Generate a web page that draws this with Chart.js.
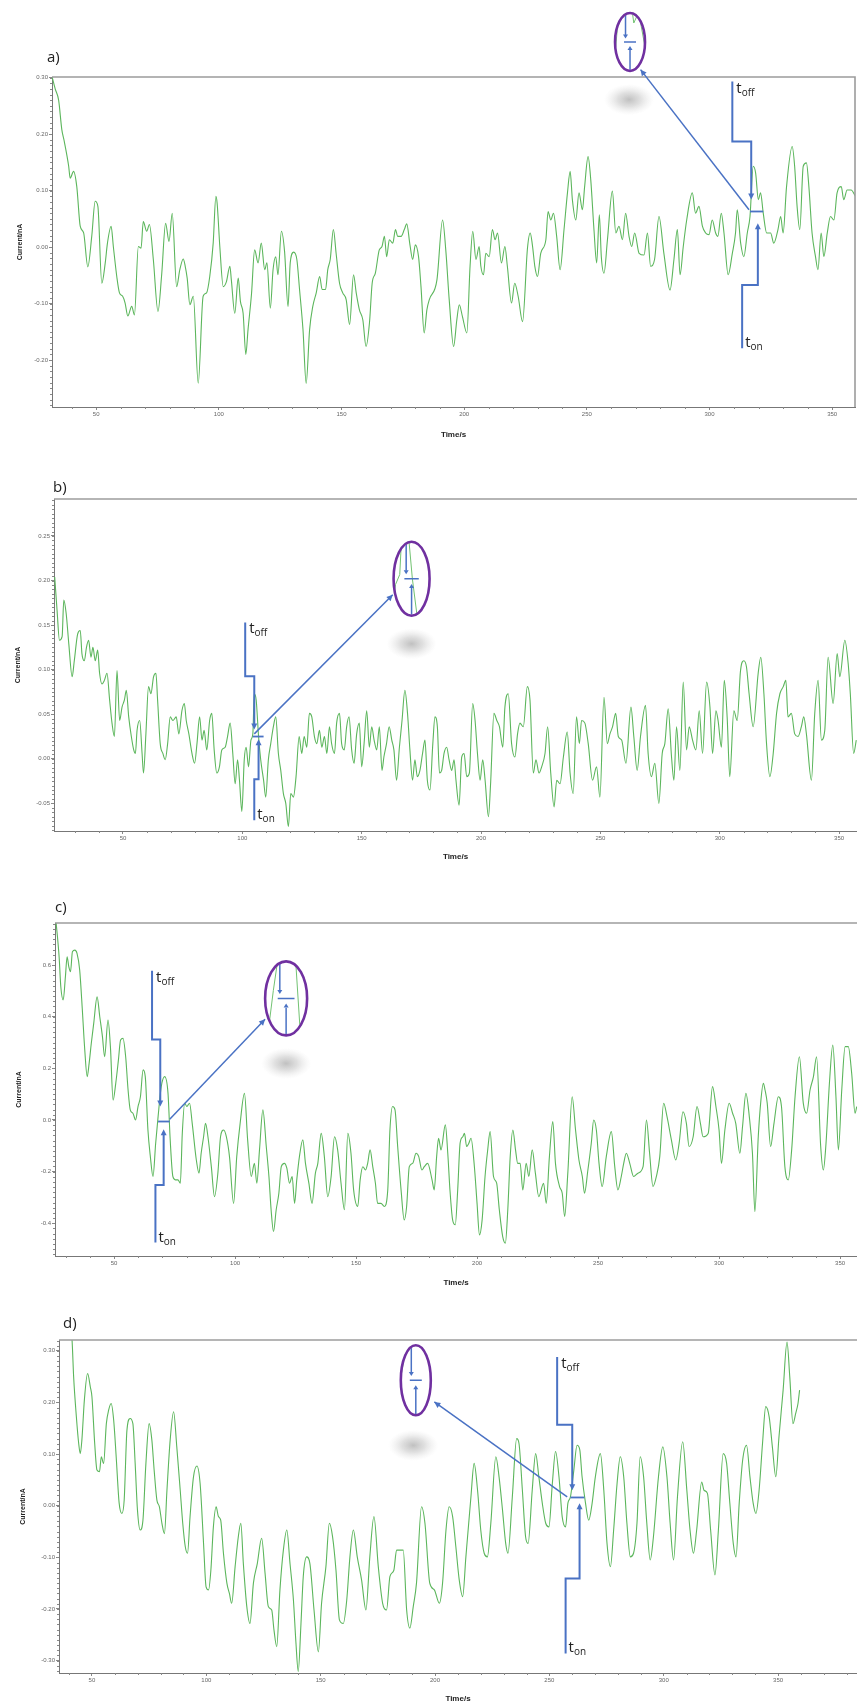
<!DOCTYPE html>
<html><head><meta charset="utf-8">
<script src="https://cdn.jsdelivr.net/npm/chart.js@4.4.1/dist/chart.umd.min.js"></script>
<style>
html,body{margin:0;padding:0;background:#fff;}
#page{position:relative;width:857px;height:1706px;overflow:hidden;background:#fff;}
canvas{position:absolute;left:0;}
</style></head><body><div id="page">
<canvas id="ca" width="857" height="450" style="top:0px"></canvas>
<canvas id="cb" width="857" height="420" style="top:450px"></canvas>
<canvas id="cc" width="857" height="420" style="top:870px"></canvas>
<canvas id="cd" width="857" height="416" style="top:1290px"></canvas>
</div>
<script>
// ---------- data ----------
const X_TICKS = [50,100,150,200,250,300,350];
const Y_TICKS_A = [-0.2,-0.1,0,0.1,0.2,0.3];
const Y_TICKS_B = [-0.05,0,0.05,0.1,0.15,0.2,0.25];
const Y_TICKS_C = [-0.4,-0.2,0,0.2,0.4,0.6];
const Y_TICKS_D = [-0.3,-0.2,-0.1,0,0.1,0.2,0.3];

// [time (s), current (nA)]
const TRACE_A = [[32.0,0.302],[33.3,0.280],[34.7,0.260],[36.0,0.208],[37.0,0.187],[38.8,0.143],[39.4,0.122],[40.8,0.134],[42.1,0.107],[43.5,0.037],[44.9,0.025],[46.6,-0.035],[48.2,0.019],[49.6,0.081],[50.7,0.072],[52.3,-0.064],[53.7,-0.028],[54.6,0.007],[56.1,0.037],[57.0,0.001],[58.4,-0.052],[59.5,-0.081],[60.8,-0.087],[61.8,-0.099],[62.9,-0.122],[64.5,-0.105],[65.6,-0.120],[67.2,0.001],[68.3,-0.002],[69.2,0.045],[70.6,0.028],[71.7,0.040],[73.3,-0.022],[75.2,-0.114],[76.7,-0.049],[78.3,0.042],[79.7,0.010],[81.0,0.060],[82.8,-0.070],[84.1,-0.040],[85.5,-0.021],[86.3,-0.034],[87.1,-0.055],[88.2,-0.102],[89.6,-0.087],[91.6,-0.241],[93.6,-0.087],[95.0,-0.081],[96.3,-0.052],[97.7,0.007],[98.8,0.090],[99.3,0.078],[100.4,0.001],[101.8,-0.070],[103.1,-0.061],[104.5,-0.034],[105.1,-0.058],[106.5,-0.117],[107.9,-0.055],[108.8,-0.096],[109.9,-0.117],[111.0,-0.190],[111.9,-0.146],[113.3,-0.084],[114.6,-0.005],[116.0,-0.028],[117.3,0.007],[118.7,-0.040],[119.6,-0.028],[121.0,-0.108],[122.1,-0.040],[123.2,-0.017],[124.1,-0.049],[125.5,0.028],[126.8,-0.008],[128.2,-0.105],[129.1,-0.028],[130.5,-0.009],[131.8,-0.022],[132.9,-0.075],[134.3,-0.146],[135.6,-0.241],[137.0,-0.146],[138.3,-0.105],[139.7,-0.081],[141.1,-0.052],[142.1,-0.075],[143.5,-0.075],[144.4,-0.040],[145.4,-0.022],[146.7,0.031],[147.8,-0.011],[149.2,-0.064],[150.5,-0.081],[151.9,-0.093],[153.3,-0.137],[154.9,-0.049],[156.0,-0.081],[157.3,-0.111],[158.7,-0.129],[160.0,-0.176],[161.4,-0.134],[162.5,-0.064],[163.8,-0.046],[165.4,-0.005],[166.5,0.001],[167.5,0.019],[168.4,-0.017],[169.5,0.013],[170.9,0.007],[172.0,0.031],[172.9,0.019],[174.3,0.019],[175.6,0.031],[176.6,0.041],[177.9,0.004],[179.0,-0.022],[180.1,0.004],[181.4,-0.017],[182.4,-0.070],[183.7,-0.152],[184.8,-0.111],[185.8,-0.093],[188.9,-0.058],[191.2,0.048],[192.5,-0.005],[193.9,-0.093],[195.7,-0.176],[197.0,-0.129],[198.0,-0.102],[199.3,-0.123],[201.1,-0.152],[202.4,-0.034],[203.5,0.028],[204.8,-0.022],[206.1,0.001],[206.8,-0.034],[207.9,-0.049],[208.8,-0.011],[210.2,-0.017],[211.5,0.031],[212.6,0.013],[213.6,0.025],[215.2,-0.028],[216.6,0.001],[217.6,-0.034],[219.3,-0.099],[220.6,-0.064],[222.0,-0.087],[223.8,-0.132],[225.8,-0.002],[226.9,0.025],[227.8,0.004],[228.8,-0.034],[229.9,-0.052],[231.2,-0.011],[233.3,0.013],[234.2,0.063],[235.3,0.048],[236.4,0.060],[237.7,0.019],[239.1,-0.040],[240.7,0.031],[242.1,0.096],[243.2,0.134],[244.1,0.084],[245.5,0.048],[246.8,0.096],[248.2,0.066],[249.1,0.107],[250.5,0.160],[251.6,0.119],[252.9,0.031],[254.0,-0.028],[255.1,0.057],[255.9,-0.017],[257.0,-0.046],[258.4,0.013],[260.4,0.099],[261.8,0.025],[263.1,0.037],[264.5,0.013],[265.8,0.060],[267.2,0.019],[268.3,0.001],[269.5,0.025],[271.3,-0.011],[273.3,-0.014],[274.7,0.025],[276.0,-0.034],[277.6,-0.022],[279.4,0.054],[281.4,-0.011],[283.9,-0.076],[285.5,-0.022],[286.9,0.031],[288.0,-0.049],[289.3,0.001],[290.7,0.048],[293.0,0.096],[294.3,0.060],[295.7,0.072],[297.1,0.037],[298.4,0.025],[299.8,0.022],[301.1,0.048],[302.5,0.025],[303.4,0.019],[304.8,0.060],[305.9,0.025],[307.6,-0.049],[309.3,-0.011],[310.6,0.025],[311.3,0.066],[312.7,0.007],[314.0,-0.017],[315.4,0.025],[316.5,0.054],[317.8,0.143],[318.8,0.131],[319.9,0.084],[320.8,0.096],[321.9,0.060],[323.3,0.025],[324.9,0.025],[326.2,0.007],[327.9,0.031],[329.0,0.054],[330.0,0.025],[331.4,0.107],[333.7,0.178],[334.7,0.143],[335.7,0.072],[336.8,0.031],[338.2,0.143],[339.5,0.149],[340.5,0.107],[341.8,0.025],[343.2,-0.017],[344.2,-0.040],[345.5,0.025],[346.6,-0.017],[348.0,0.025],[349.3,0.054],[350.7,0.048],[352.0,0.096],[353.7,0.107],[354.7,0.084],[356.1,0.101],[357.7,0.101],[359.5,0.090]];

const TRACE_B = [[21.4,0.204],[22.4,0.166],[23.4,0.133],[24.5,0.137],[25.2,0.178],[26.2,0.163],[27.3,0.129],[28.7,0.092],[29.6,0.110],[31.0,0.140],[32.1,0.144],[32.8,0.118],[33.8,0.110],[34.7,0.125],[35.6,0.133],[36.6,0.114],[37.4,0.125],[38.4,0.110],[39.4,0.122],[40.2,0.096],[41.2,0.084],[42.2,0.088],[43.3,0.096],[44.4,0.066],[45.4,0.040],[46.4,0.025],[47.5,0.099],[48.6,0.043],[49.6,0.058],[50.6,0.066],[51.4,0.077],[52.4,0.047],[53.5,0.025],[54.5,0.010],[55.2,0.006],[55.9,0.032],[57.0,0.043],[58.0,0.006],[58.6,-0.016],[59.6,0.028],[60.7,0.081],[61.7,0.073],[62.8,0.092],[63.8,0.096],[64.5,0.066],[65.6,0.017],[66.7,0.006],[67.7,-0.001],[68.7,0.017],[69.8,0.047],[70.9,0.043],[72.3,0.047],[73.4,0.028],[74.7,0.054],[75.7,0.062],[76.5,0.043],[77.6,0.028],[78.9,0.006],[80.0,-0.005],[81.0,0.017],[82.1,0.047],[83.1,0.021],[84.0,0.032],[85.1,0.010],[86.3,0.043],[87.2,0.051],[88.2,0.010],[89.3,-0.016],[90.4,-0.009],[91.4,0.010],[92.8,0.013],[93.8,0.025],[94.9,0.040],[96.0,0.006],[97.0,-0.028],[98.0,-0.001],[98.8,-0.024],[99.8,-0.059],[100.8,-0.001],[101.6,0.013],[102.6,-0.009],[103.6,0.021],[104.4,0.028],[105.0,0.073],[105.8,0.066],[106.8,0.025],[107.7,-0.001],[108.9,-0.024],[109.8,-0.043],[110.9,-0.001],[111.9,0.017],[113.0,0.036],[114.0,0.047],[115.1,0.006],[116.1,-0.013],[117.2,-0.039],[118.2,-0.050],[119.3,-0.076],[120.3,-0.039],[121.4,-0.043],[122.5,-0.020],[123.8,0.025],[124.9,0.006],[125.9,0.025],[127.0,0.013],[128.1,0.051],[129.1,0.047],[130.2,0.025],[131.2,0.017],[132.3,0.032],[133.3,0.013],[134.4,0.025],[135.4,0.006],[136.5,0.036],[137.4,0.017],[138.6,0.006],[139.5,0.040],[140.7,0.051],[141.6,0.017],[142.7,0.010],[143.7,0.036],[144.7,0.047],[145.8,0.010],[146.8,-0.005],[147.9,0.028],[149.0,0.040],[150.0,-0.009],[151.0,0.017],[152.1,0.054],[153.2,0.013],[154.2,0.036],[155.2,0.021],[156.3,0.010],[157.4,0.036],[158.5,-0.013],[159.3,0.002],[160.4,0.017],[161.5,0.036],[162.6,0.021],[163.5,0.010],[164.6,-0.024],[165.8,0.013],[166.9,0.043],[168.1,0.077],[169.2,0.051],[170.2,0.010],[171.3,-0.024],[172.3,-0.001],[173.3,-0.020],[174.4,-0.013],[175.5,0.006],[176.5,0.021],[177.5,-0.024],[178.6,-0.035],[179.8,0.017],[180.7,0.047],[181.7,0.036],[182.6,-0.016],[183.5,-0.013],[184.5,0.006],[185.6,0.013],[186.6,-0.001],[187.7,-0.013],[188.7,-0.001],[189.5,-0.024],[190.8,-0.052],[191.9,0.002],[192.9,0.006],[194.0,-0.020],[195.1,-0.016],[196.5,0.062],[197.5,0.043],[198.5,0.006],[199.6,-0.024],[200.7,-0.001],[201.7,-0.024],[203.1,-0.065],[204.0,-0.028],[205.4,0.051],[206.6,0.043],[207.7,0.036],[209.1,0.013],[210.0,0.058],[211.4,0.073],[212.8,0.017],[214.2,0.002],[215.3,0.028],[216.3,0.040],[217.7,0.036],[219.4,0.081],[220.5,0.066],[221.9,-0.016],[223.0,-0.001],[224.3,-0.016],[225.4,-0.009],[226.8,0.006],[227.9,0.036],[229.2,-0.016],[230.6,-0.054],[231.7,-0.024],[233.1,-0.028],[234.5,0.002],[236.1,0.030],[237.3,-0.016],[238.6,-0.039],[240.0,0.047],[241.2,0.017],[242.1,0.043],[243.5,0.040],[244.9,0.017],[246.7,-0.024],[248.4,-0.009],[249.8,-0.043],[251.5,0.069],[252.9,0.017],[254.0,0.028],[255.1,0.036],[256.4,0.051],[257.5,0.025],[258.9,0.021],[260.7,-0.005],[262.8,0.058],[264.0,0.025],[265.4,-0.013],[266.8,0.025],[268.9,0.060],[270.0,0.006],[271.4,-0.020],[272.8,-0.005],[274.5,-0.050],[275.9,0.006],[277.0,0.017],[278.4,0.056],[279.8,0.002],[280.8,-0.024],[281.9,0.036],[283.3,-0.013],[284.7,0.086],[286.1,0.010],[287.2,0.036],[288.6,0.021],[290.0,0.010],[291.4,0.054],[292.8,0.006],[294.5,0.086],[295.9,0.058],[297.0,0.006],[298.4,0.054],[299.3,0.043],[300.7,0.013],[301.9,0.088],[303.1,0.047],[304.2,-0.020],[305.9,0.054],[307.3,0.043],[308.7,0.099],[310.1,0.110],[311.2,0.103],[312.3,0.073],[314.0,0.036],[316.1,0.096],[317.2,0.114],[318.5,0.073],[319.6,0.017],[321.0,-0.020],[322.4,0.006],[323.8,0.051],[325.2,0.073],[326.6,0.081],[327.7,0.088],[328.6,0.047],[330.0,0.051],[331.4,0.028],[332.8,0.025],[334.2,0.036],[335.2,0.047],[336.3,0.028],[338.4,-0.024],[339.8,0.051],[341.2,0.088],[342.6,0.021],[344.0,0.032],[345.4,0.114],[347.5,0.062],[349.2,0.118],[350.3,0.092],[352.4,0.133],[353.8,0.107],[354.7,0.073],[356.1,0.006],[357.2,0.021]];

const TRACE_C = [[25.9,0.780],[27.3,0.632],[28.0,0.516],[29.0,0.465],[29.9,0.555],[30.6,0.632],[31.3,0.594],[32.0,0.574],[32.8,0.652],[33.8,0.658],[34.7,0.645],[35.8,0.581],[36.9,0.426],[37.9,0.271],[38.9,0.168],[39.7,0.219],[40.6,0.297],[41.6,0.374],[43.0,0.477],[44.1,0.400],[45.2,0.323],[46.1,0.245],[47.5,0.387],[48.5,0.284],[49.6,0.077],[50.7,0.142],[51.8,0.232],[52.7,0.310],[53.7,0.316],[54.8,0.245],[55.8,0.116],[56.7,0.039],[57.8,0.026],[58.9,0.000],[59.9,0.052],[60.9,0.090],[62.0,0.194],[62.9,0.168],[64.0,-0.039],[65.0,-0.142],[66.1,-0.219],[67.2,-0.090],[68.2,0.013],[69.5,0.129],[70.9,0.168],[72.3,0.103],[73.2,-0.077],[74.3,-0.219],[75.3,-0.232],[76.4,-0.232],[77.4,-0.245],[78.2,-0.052],[79.2,0.065],[80.1,0.052],[81.2,0.065],[82.3,-0.013],[84.0,-0.155],[85.1,-0.206],[86.0,-0.129],[87.0,-0.065],[87.8,-0.013],[88.8,-0.065],[90.2,-0.181],[91.5,-0.297],[92.9,-0.206],[94.0,-0.065],[95.3,-0.039],[96.4,-0.065],[97.7,-0.142],[99.4,-0.323],[100.7,-0.142],[102.1,-0.013],[103.9,0.103],[105.2,-0.077],[106.7,-0.219],[108.0,-0.168],[109.0,-0.245],[110.1,-0.116],[111.5,0.039],[112.9,-0.103],[114.0,-0.219],[114.9,-0.348],[115.9,-0.432],[117.0,-0.348],[118.1,-0.284],[119.1,-0.181],[120.4,-0.168],[121.4,-0.187],[122.5,-0.245],[123.6,-0.219],[124.6,-0.323],[125.5,-0.232],[126.6,-0.142],[128.0,-0.077],[129.1,-0.168],[130.5,-0.245],[131.8,-0.323],[133.2,-0.206],[134.2,-0.168],[135.6,-0.052],[136.9,-0.142],[138.3,-0.297],[139.7,-0.219],[141.1,-0.065],[142.4,-0.116],[143.8,-0.245],[145.2,-0.348],[146.6,-0.052],[147.9,-0.129],[149.0,-0.271],[150.7,-0.335],[151.7,-0.232],[152.8,-0.181],[153.9,-0.194],[154.8,-0.168],[155.8,-0.116],[156.9,-0.181],[158.0,-0.245],[158.9,-0.323],[160.3,-0.323],[161.7,-0.335],[163.1,-0.271],[164.0,-0.039],[165.1,0.052],[166.1,0.039],[167.2,-0.103],[168.6,-0.271],[169.9,-0.387],[170.9,-0.335],[172.0,-0.181],[173.4,-0.168],[174.8,-0.129],[175.9,-0.142],[177.2,-0.194],[178.2,-0.181],[179.6,-0.168],[181.4,-0.232],[182.3,-0.271],[183.3,-0.142],[184.1,-0.071],[185.1,-0.116],[186.9,-0.019],[187.9,-0.129],[188.8,-0.271],[189.9,-0.387],[191.0,-0.406],[192.0,-0.271],[193.0,-0.090],[194.1,-0.065],[194.8,-0.052],[195.7,-0.103],[196.6,-0.090],[197.5,-0.071],[198.9,-0.181],[200.0,-0.323],[201.0,-0.445],[202.1,-0.387],[203.3,-0.219],[204.4,-0.116],[205.4,-0.045],[206.8,-0.219],[208.1,-0.245],[209.2,-0.348],[210.6,-0.452],[211.7,-0.477],[212.7,-0.348],[213.7,-0.142],[214.8,-0.039],[215.9,-0.116],[216.8,-0.168],[217.8,-0.168],[218.9,-0.271],[220.3,-0.168],[221.4,-0.219],[222.8,-0.116],[224.1,-0.206],[225.5,-0.297],[227.5,-0.245],[228.6,-0.323],[229.9,-0.142],[231.3,-0.006],[232.4,-0.168],[234.1,-0.258],[235.2,-0.284],[236.2,-0.374],[237.5,-0.206],[239.3,0.090],[240.7,-0.039],[242.1,-0.155],[243.5,-0.219],[244.4,-0.284],[245.8,-0.194],[247.2,-0.090],[248.2,0.000],[249.3,-0.039],[250.4,-0.168],[251.7,-0.258],[253.4,-0.142],[255.5,-0.045],[256.9,-0.181],[258.2,-0.271],[259.6,-0.219],[260.6,-0.168],[261.7,-0.129],[263.1,-0.168],[264.7,-0.219],[266.5,-0.206],[268.6,-0.181],[270.0,0.000],[271.3,-0.129],[272.7,-0.258],[274.1,-0.219],[275.5,-0.142],[277.1,0.065],[278.5,0.013],[280.3,-0.077],[282.1,-0.155],[283.5,-0.090],[285.1,0.032],[286.5,-0.013],[287.6,-0.103],[289.3,-0.065],[290.9,0.052],[292.3,-0.013],[293.4,-0.065],[295.5,-0.052],[297.3,0.129],[298.7,0.052],[300.0,-0.039],[301.0,-0.168],[302.4,-0.039],[304.2,0.065],[305.6,0.026],[306.9,-0.013],[308.6,-0.129],[309.7,-0.026],[311.1,0.103],[312.5,0.013],[313.8,-0.129],[314.8,-0.355],[316.2,-0.065],[317.3,0.077],[318.3,0.142],[319.0,0.116],[319.9,0.065],[321.3,-0.103],[322.7,-0.013],[324.5,0.090],[325.8,0.052],[327.2,-0.181],[328.6,-0.232],[330.0,-0.116],[331.4,0.090],[333.2,0.245],[334.8,0.065],[336.2,0.026],[337.6,0.116],[339.0,0.168],[340.3,0.245],[342.0,-0.103],[343.1,-0.194],[344.2,-0.090],[345.6,0.142],[347.0,0.290],[348.3,0.090],[349.3,-0.116],[350.7,0.116],[352.1,0.284],[353.4,0.284],[354.8,0.181],[356.2,0.026],[356.9,0.052]];

const TRACE_D = [[36.0,0.450],[41.3,0.321],[42.0,0.250],[43.2,0.172],[44.2,0.121],[44.9,0.101],[45.6,0.127],[46.7,0.205],[48.1,0.256],[49.3,0.230],[50.0,0.211],[51.2,0.121],[52.2,0.069],[53.3,0.066],[54.1,0.095],[55.1,0.082],[56.3,0.159],[57.3,0.185],[58.4,0.198],[59.5,0.166],[60.6,0.095],[61.9,0.005],[63.1,-0.015],[64.1,0.011],[65.3,0.146],[66.7,0.169],[67.9,0.159],[68.9,0.082],[69.9,-0.008],[71.1,-0.047],[72.3,-0.028],[73.6,0.082],[75.0,0.159],[76.2,0.127],[77.2,0.069],[78.4,0.011],[79.5,-0.002],[80.6,-0.034],[81.7,-0.054],[82.8,0.030],[84.2,0.127],[85.7,0.182],[87.1,0.114],[88.6,0.030],[89.7,-0.034],[90.8,-0.079],[91.8,-0.092],[92.9,-0.021],[94.4,0.056],[95.9,0.077],[97.3,0.043],[98.8,-0.073],[99.9,-0.157],[101.0,-0.163],[102.0,-0.125],[103.1,-0.041],[104.3,-0.002],[105.3,-0.021],[106.3,-0.028],[107.5,-0.092],[109.0,-0.150],[110.1,-0.170],[111.1,-0.189],[112.6,-0.118],[114.0,-0.060],[115.1,-0.034],[116.2,-0.112],[117.7,-0.195],[119.1,-0.228],[120.6,-0.150],[122.3,-0.112],[124.2,-0.063],[125.7,-0.131],[127.1,-0.195],[128.6,-0.202],[129.6,-0.241],[130.8,-0.273],[132.2,-0.163],[133.7,-0.086],[135.2,-0.047],[136.6,-0.112],[138.1,-0.183],[139.2,-0.266],[140.2,-0.321],[141.4,-0.228],[142.4,-0.137],[143.9,-0.099],[145.3,-0.112],[147.1,-0.202],[149.0,-0.283],[150.4,-0.189],[152.3,-0.118],[153.8,-0.034],[155.2,-0.060],[156.7,-0.125],[158.2,-0.221],[159.9,-0.228],[161.4,-0.183],[162.8,-0.099],[164.3,-0.047],[166.0,-0.099],[167.9,-0.144],[169.8,-0.202],[171.5,-0.099],[173.3,-0.021],[175.2,-0.118],[177.1,-0.189],[178.8,-0.202],[180.3,-0.137],[182.0,-0.125],[183.2,-0.086],[184.6,-0.086],[186.1,-0.086],[187.6,-0.202],[189.0,-0.237],[190.5,-0.195],[191.9,-0.150],[194.1,-0.002],[195.6,-0.034],[197.7,-0.150],[199.7,-0.163],[201.9,-0.189],[203.3,-0.150],[204.8,-0.047],[206.2,-0.002],[207.7,-0.021],[209.1,-0.079],[210.6,-0.144],[212.1,-0.176],[213.5,-0.099],[215.7,0.017],[217.1,0.082],[218.6,0.030],[220.0,-0.047],[221.5,-0.092],[222.9,-0.099],[224.4,-0.034],[226.6,0.095],[228.0,0.056],[229.5,-0.008],[230.9,-0.073],[231.9,-0.092],[233.8,0.017],[235.7,0.130],[236.7,0.121],[238.2,0.030],[239.6,-0.060],[240.7,-0.073],[242.5,0.030],[244.0,0.101],[245.4,0.056],[246.9,0.005],[248.4,-0.034],[249.8,-0.041],[251.3,0.043],[252.7,0.105],[254.2,0.056],[255.6,-0.021],[257.1,-0.041],[258.1,0.005],[259.2,0.017],[260.7,0.069],[262.1,0.117],[263.3,0.108],[264.3,0.056],[265.8,0.005],[267.2,-0.028],[268.7,0.005],[270.1,0.056],[272.3,0.101],[273.8,0.030],[275.2,-0.073],[276.7,-0.118],[278.1,-0.047],[279.6,0.043],[281.0,0.095],[282.5,0.056],[283.9,-0.034],[285.4,-0.099],[286.8,-0.092],[288.3,-0.034],[289.7,0.095],[291.2,0.056],[292.6,-0.034],[294.1,-0.105],[295.5,-0.060],[297.7,0.056],[299.6,0.114],[301.4,0.056],[302.8,-0.034],[304.3,-0.105],[306.0,0.017],[308.3,0.124],[310.1,0.030],[311.5,-0.047],[313.0,-0.092],[314.4,-0.047],[316.6,0.046],[317.6,0.030],[319.1,0.024],[320.5,-0.047],[322.4,-0.134],[323.9,-0.047],[326.0,0.101],[327.5,0.082],[328.9,0.005],[330.4,-0.073],[331.6,-0.099],[333.0,0.005],[334.5,0.088],[336.2,0.117],[337.7,0.056],[339.1,0.005],[340.3,-0.015],[341.7,0.030],[343.2,0.121],[344.6,0.192],[346.1,0.172],[347.5,0.114],[349.0,0.056],[350.4,0.134],[352.2,0.224],[353.9,0.317],[355.1,0.250],[356.5,0.159],[357.7,0.179],[358.7,0.198],[359.4,0.224]];

// event annotations (time s, current nA)
const EVENT_A = {offX:309.3,offTop:0.293,offMid:0.187,offX2:317.0,offTip:0.084,onX:313.3,onBot:-0.179,onMid:-0.067,onX2:319.7,onTip:0.042,markY:0.063,markT0:316.5,markT1:321.9,from:[316.1,0.066],to:[271.9,0.314],lens:[267.6,0.363],blob:[267.2,0.261]};
const EVENT_B = {offX:101.2,offTop:0.153,offMid:0.0925,offX2:105.0,offTip:0.033,onX:105.0,onBot:-0.069,onMid:-0.023,onX2:106.8,onTip:0.022,markY:0.025,markT0:104.4,markT1:108.9,from:[105.0,0.028],to:[163.0,0.184],lens:[170.9,0.202],blob:[170.9,0.129]};
const EVENT_C = {offX:65.7,offTop:0.578,offMid:0.312,offX2:69.1,offTip:0.052,onX:67.1,onBot:-0.475,onMid:-0.252,onX2:70.5,onTip:-0.036,markY:-0.006,markT0:68.2,markT1:73.0,from:[73.0,0.003],to:[112.4,0.390],lens:[121.1,0.471],blob:[121.1,0.219]};
const EVENT_D = {offX:253.4,offTop:0.288,offMid:0.157,offX2:260.0,offTip:0.030,onX:257.1,onBot:-0.286,onMid:-0.141,onX2:263.2,onTip:0.005,markY:0.016,markT0:259.2,markT1:265.3,from:[257.8,0.017],to:[199.7,0.201],lens:[191.6,0.243],blob:[190.5,0.117]};

// ---------- layout / style ----------
const PANELS = [
  {id:'ca', label:'a)', lx:47, ly:62, trace:TRACE_A, ev:EVENT_A, yTicks:Y_TICKS_A, yDec:2, yMinor:0.01,
   xMin:32, xMax:359.3, yMin:-0.283, yMax:0.301, L:{h:450, left:52, top:77, right:855, bottom:407, xPad:10.2, yPad:15.8}, rightBorder:true, lensR:[15,29]},
  {id:'cb', label:'b)', lx:53, ly:42, trace:TRACE_B, ev:EVENT_B, yTicks:Y_TICKS_B, yDec:2, yMinor:0.005,
   xMin:21.1, xMax:357.5, yMin:-0.081, yMax:0.2915, L:{h:420, left:54, top:49, right:857, bottom:381, xPad:8.2, yPad:13.8}, rightBorder:false, lensR:[18,37]},
  {id:'cc', label:'c)', lx:55, ly:42, trace:TRACE_C, ev:EVENT_C, yTicks:Y_TICKS_C, yDec:1, yMinor:0.02,
   xMin:25.6, xMax:357, yMin:-0.527, yMax:0.763, L:{h:420, left:55, top:53, right:857, bottom:386, xPad:2.2, yPad:14.8}, rightBorder:false, lensR:[21,37]},
  {id:'cd', label:'d)', lx:63, ly:38, trace:TRACE_D, ev:EVENT_D, yTicks:Y_TICKS_D, yDec:2, yMinor:0.01,
   xMin:35.6, xMax:384.5, yMin:-0.324, yMax:0.321, L:{h:416, left:59, top:50, right:857, bottom:383, xPad:2.2, yPad:18.8}, rightBorder:false, lensR:[15,35]}
];

const BLUE = '#4a72c4', PURPLE = '#7030a0', GREEN = '#5cb65c';

function arrowHead(ctx, x1, y1, x2, y2, len, half) {
  const a = Math.atan2(y2 - y1, x2 - x1);
  ctx.beginPath();
  ctx.moveTo(x2, y2);
  ctx.lineTo(x2 - len*Math.cos(a) + half*Math.sin(a), y2 - len*Math.sin(a) - half*Math.cos(a));
  ctx.lineTo(x2 - len*Math.cos(a) - half*Math.sin(a), y2 - len*Math.sin(a) + half*Math.cos(a));
  ctx.closePath(); ctx.fill();
}

function subText(ctx, x, y, sub) {
  ctx.fillStyle = '#222';
  ctx.font = '15px "Open Sans", "Noto Sans", sans-serif';
  ctx.textBaseline = 'alphabetic'; ctx.textAlign = 'left';
  ctx.fillText('t', x, y);
  const w = ctx.measureText('t').width;
  ctx.font = '10px "Open Sans", "Noto Sans", sans-serif';
  ctx.fillText(sub, x + w, y + 3);
}

function makeDecor(P) {
  return {
    id: 'decor_' + P.id,
    afterDraw(chart) {
      const ctx = chart.ctx, xs = chart.scales.x, ys = chart.scales.y, ca = chart.chartArea;
      const X = t => xs.getPixelForValue(t), Y = v => ys.getPixelForValue(v);
      const E = P.ev;
      ctx.save();
      // minor ticks
      ctx.strokeStyle = '#888'; ctx.lineWidth = 1; ctx.beginPath();
      for (let t = Math.ceil(xs.min/10)*10; t <= xs.max; t += 10) {
        if (t % 50 === 0) continue;
        const x = Math.round(X(t)) + 0.5;
        ctx.moveTo(x, ca.bottom); ctx.lineTo(x, ca.bottom + 2);
      }
      for (let k = Math.ceil(ys.min/P.yMinor); k*P.yMinor <= ys.max; k++) {
        const y = Math.round(Y(k*P.yMinor)) + 0.5;
        ctx.moveTo(ca.left - 2, y); ctx.lineTo(ca.left, y);
      }
      ctx.stroke();
      // frame top / right
      ctx.strokeStyle = '#9c9c9c'; ctx.lineWidth = 1.6; ctx.beginPath();
      ctx.moveTo(ca.left, ca.top); ctx.lineTo(ca.right, ca.top);
      if (P.rightBorder) ctx.lineTo(ca.right, ca.bottom);
      ctx.stroke();
      // panel label
      ctx.fillStyle = '#222'; ctx.font = '15px "Open Sans", "Noto Sans", sans-serif';
      ctx.textAlign = 'left'; ctx.textBaseline = 'alphabetic';
      ctx.fillText(P.label, P.lx, P.ly);
      // grey blob
      const bx = X(E.blob[0]), by = Y(E.blob[1]);
      ctx.save(); ctx.translate(bx, by); ctx.scale(1, 0.62);
      const g = ctx.createRadialGradient(0, 0, 0, 0, 0, 25);
      g.addColorStop(0, 'rgba(165,165,165,0.7)'); g.addColorStop(0.45, 'rgba(180,180,180,0.42)'); g.addColorStop(1, 'rgba(215,215,215,0)');
      ctx.fillStyle = g; ctx.beginPath(); ctx.arc(0, 0, 25, 0, Math.PI*2); ctx.fill();
      ctx.restore();
      // brackets
      ctx.strokeStyle = BLUE; ctx.fillStyle = BLUE; ctx.lineWidth = 2; ctx.lineJoin = 'miter';
      ctx.beginPath();
      ctx.moveTo(X(E.offX), Y(E.offTop)); ctx.lineTo(X(E.offX), Y(E.offMid));
      ctx.lineTo(X(E.offX2), Y(E.offMid)); ctx.lineTo(X(E.offX2), Y(E.offTip) - 3);
      ctx.stroke();
      arrowHead(ctx, X(E.offX2), Y(E.offMid), X(E.offX2), Y(E.offTip), 6, 3);
      ctx.beginPath();
      ctx.moveTo(X(E.onX), Y(E.onBot)); ctx.lineTo(X(E.onX), Y(E.onMid));
      ctx.lineTo(X(E.onX2), Y(E.onMid)); ctx.lineTo(X(E.onX2), Y(E.onTip) + 3);
      ctx.stroke();
      arrowHead(ctx, X(E.onX2), Y(E.onMid), X(E.onX2), Y(E.onTip), 6, 3);
      ctx.lineWidth = 1.8; ctx.beginPath();
      ctx.moveTo(X(E.markT0), Y(E.markY)); ctx.lineTo(X(E.markT1), Y(E.markY)); ctx.stroke();
      // pointer arrow
      ctx.lineWidth = 1.5; ctx.beginPath();
      ctx.moveTo(X(E.from[0]), Y(E.from[1])); ctx.lineTo(X(E.to[0]), Y(E.to[1])); ctx.stroke();
      arrowHead(ctx, X(E.from[0]), Y(E.from[1]), X(E.to[0]), Y(E.to[1]), 6, 3);
      // labels
      subText(ctx, X(E.offX) + 4, Y(E.offTop) + 11, 'off');
      subText(ctx, X(E.onX) + 3, Y(E.onBot) - 1, 'on');
      // lens (magnified view of the event)
      const cx = X(E.lens[0]), cy = Y(E.lens[1]), rx = P.lensR[0], ry = P.lensR[1];
      ctx.save();
      ctx.beginPath(); ctx.ellipse(cx, cy, rx - 1, ry - 1, 0, 0, Math.PI*2); ctx.clip();
      const tm = (E.markT0 + E.markT1)/2, vm = E.markY;
      const kx = (X(tm + 1) - X(tm)) * 2.2, ky = (Y(vm) - Y(vm + 1)) * 1.6;
      ctx.strokeStyle = '#72c272'; ctx.lineWidth = 1; ctx.beginPath();
      let first = true;
      P.trace.forEach(p => {
        if (Math.abs(p[0] - tm) > 12) return;
        const px = cx + (p[0] - tm)*kx, py = cy - (p[1] - vm)*ky;
        if (first) { ctx.moveTo(px, py); first = false; } else ctx.lineTo(px, py);
      });
      ctx.stroke();
      ctx.strokeStyle = BLUE; ctx.fillStyle = BLUE; ctx.lineWidth = 1.5;
      const ax = cx - rx*0.3;
      ctx.beginPath(); ctx.moveTo(ax, cy - ry*0.95); ctx.lineTo(ax, cy - ry*0.22); ctx.stroke();
      arrowHead(ctx, ax, cy - ry, ax, cy - ry*0.12, 4, 2.5);
      ctx.beginPath(); ctx.moveTo(cx - rx*0.4, cy); ctx.lineTo(cx + rx*0.4, cy); ctx.stroke();
      ctx.beginPath(); ctx.moveTo(cx, cy + ry*0.98); ctx.lineTo(cx, cy + ry*0.25); ctx.stroke();
      arrowHead(ctx, cx, cy + ry, cx, cy + ry*0.14, 4, 2.5);
      ctx.restore();
      ctx.strokeStyle = PURPLE; ctx.lineWidth = 2.6;
      ctx.beginPath(); ctx.ellipse(cx, cy, rx, ry, 0, 0, Math.PI*2); ctx.stroke();
      ctx.restore();
    }
  };
}

function buildPanel(P) {
  const L = P.L;
  const tickFont = {size: 6, family: '"Liberation Sans", Arial, sans-serif'};
  new Chart(document.getElementById(P.id), {
    type: 'line',
    data: {datasets: [{
      data: P.trace.map(p => ({x: p[0], y: p[1]})),
      borderColor: GREEN, borderWidth: 1.1, pointRadius: 0, fill: false,
      cubicInterpolationMode: 'monotone'
    }]},
    options: {
      responsive: false, animation: false, events: [],
      layout: {padding: {left: 0, top: L.top, right: 857 - L.right, bottom: 0}},
      plugins: {legend: {display: false}, tooltip: {enabled: false}},
      scales: {
        x: {
          type: 'linear', min: P.xMin, max: P.xMax,
          afterBuildTicks: s => { s.ticks = X_TICKS.map(v => ({value: v})); },
          afterFit: s => { s.height = L.h - L.bottom; },
          grid: {drawOnChartArea: false, drawTicks: true, tickLength: 3, color: '#888'},
          border: {display: true, color: '#777', width: 1},
          ticks: {font: tickFont, color: '#666', padding: 1, maxRotation: 0, autoSkip: false, callback: v => String(v)},
          title: {display: true, text: 'Time/s', color: '#222',
                  font: {size: 8, weight: 'bold', family: '"Liberation Sans", Arial, sans-serif'},
                  padding: {top: 0, bottom: L.xPad}}
        },
        y: {
          type: 'linear', min: P.yMin, max: P.yMax,
          afterBuildTicks: s => { s.ticks = P.yTicks.map(v => ({value: v})); },
          afterFit: s => { s.width = L.left; },
          grid: {drawOnChartArea: false, drawTicks: true, tickLength: 3, color: '#888'},
          border: {display: true, color: '#777', width: 1},
          ticks: {font: tickFont, color: '#666', padding: 1, autoSkip: false,
                  callback: v => (Math.abs(v) < 1e-9 ? 0 : v).toFixed(P.yDec)},
          title: {display: true, text: 'Current/nA', color: '#222',
                  font: {size: 7, weight: 'bold', family: '"Liberation Sans", Arial, sans-serif'},
                  padding: {top: L.yPad, bottom: 0}}
        }
      }
    },
    plugins: [makeDecor(P)]
  });
}

PANELS.forEach(buildPanel);
</script>
</body></html>
